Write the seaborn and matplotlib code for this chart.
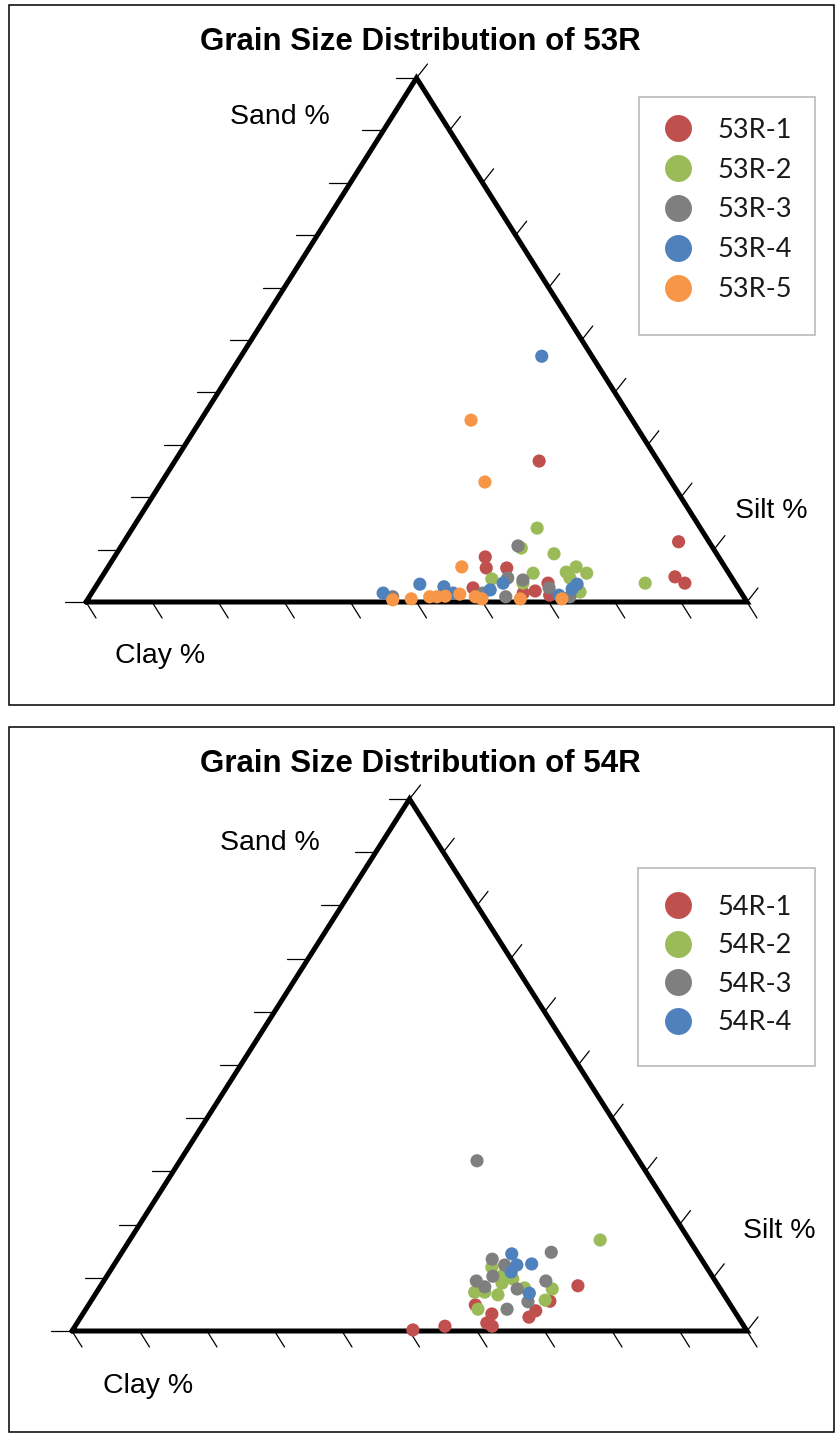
import numpy as np
import pandas as pd
import matplotlib
matplotlib.use("Agg")
import matplotlib.pyplot as plt
import seaborn as sns
from matplotlib.lines import Line2D
from matplotlib.patches import Rectangle

# ---------------------------------------------------------------------------
# Grain size data (percent). Clay is the remainder: 100 - sand - silt.
# ---------------------------------------------------------------------------
SAND_53R_1 = [26.9, 11.5, 4.8, 3.6, 8.6, 6.5, 6.5, 2.7, 3.6, 1.7, 2.1, 1.3]
SILT_53R_1 = [55.1, 83.9, 86.7, 88.8, 56.1, 57.3, 60.4, 57.2, 68.1, 65.3, 66.9, 69.5]

SAND_53R_2 = [14.1, 10.3, 9.2, 5.5, 4.4, 5.7, 6.7, 5.5, 4.6, 1.9, 3.6, 3.6]
SILT_53R_2 = [61.2, 60.7, 66.2, 64.9, 59.2, 69.8, 70.8, 73.0, 70.9, 73.8, 82.8, 64.3]

SAND_53R_3 = [10.7, 4.6, 4.2, 1.0, 2.7, 1.0, 1.0, 1.7]
SILT_53R_3 = [60.0, 61.5, 64.0, 63.0, 68.7, 72.7, 45.9, 59.2]

SAND_53R_4 = [46.9, 3.6, 2.3, 3.4, 2.5, 1.3, 1.7, 3.4, 2.9, 1.7]
SILT_53R_4 = [45.5, 61.3, 60.0, 72.6, 72.3, 70.9, 44.1, 48.8, 52.7, 54.7]

SAND_53R_5 = [34.7, 22.9, 6.7, 0.4, 0.6, 1.0, 1.0, 1.1, 1.5, 1.0, 0.6, 0.6, 0.6]
SILT_53R_5 = [40.9, 48.9, 53.5, 46.2, 48.9, 51.5, 52.6, 53.8, 55.8, 58.4, 59.6, 65.4, 71.7]

SAND_54R_1 = [8.5, 5.6, 4.9, 3.2, 3.8, 2.6, 1.5, 0.9, 0.9, 0.2]
SILT_54R_1 = [70.7, 68.0, 57.3, 60.6, 66.8, 66.4, 60.7, 61.8, 54.8, 50.4]

SAND_54R_2 = [17.1, 12.0, 10.5, 9.0, 7.3, 7.3, 6.8, 8.1, 7.9, 5.8, 4.1, 9.8]
SILT_54R_2 = [69.7, 56.2, 58.6, 59.2, 56.0, 57.5, 59.7, 63.0, 67.2, 67.2, 58.1, 60.4]

SAND_54R_3 = [32.0, 14.8, 13.5, 12.4, 10.3, 9.4, 8.3, 7.9, 9.4, 5.5, 4.1]
SILT_54R_3 = [44.0, 63.6, 55.5, 57.9, 57.2, 55.2, 57.0, 62.0, 65.5, 64.8, 62.4]

SAND_54R_4 = [14.5, 12.4, 12.6, 11.1, 7.1]
SILT_54R_4 = [57.9, 59.7, 61.8, 59.5, 64.2]

SAMPLES_53R = ["53R-1", "53R-2", "53R-3", "53R-4", "53R-5"]
SAMPLES_54R = ["54R-1", "54R-2", "54R-3", "54R-4"]

SERIES_COLORS = ["#C0504D", "#9BBB59", "#7F7F7F", "#4F81BD", "#F79646"]

TITLE_53R = "Grain Size Distribution of 53R"
TITLE_54R = "Grain Size Distribution of 54R"
AXIS_LABELS = ("Sand %", "Silt %", "Clay %")
TICK_STEPS = list(range(0, 101, 10))

# ---------------------------------------------------------------------------
W, H = 835, 1434
sns.set_style("white")
plt.rcParams["font.family"] = ["Liberation Sans", "DejaVu Sans"]
plt.rcParams["text.color"] = "black"

fig = plt.figure(figsize=(W / 100, H / 100), dpi=100)


def fx(px):
    return px / W


def fy(py):
    return 1 - py / H


def ternary_frame(samples, sands, silts):
    rows = []
    for name, sand, silt in zip(samples, sands, silts):
        for s, t in zip(sand, silt):
            rows.append({"sample": name, "sand": s, "silt": t,
                         "clay": 100 - s - t})
    df = pd.DataFrame(rows)
    # Cartesian position inside the triangle: clay at left, silt at right, sand at apex
    df["x"] = df["silt"] + df["sand"] / 2
    df["y"] = df["sand"]
    return df


def draw_panel(box, tri, title, title_y, samples, sands, silts,
               label_pos, legend_box, legend_rows):
    # panel border
    x0, y0, x1, y1 = box
    fig.add_artist(Rectangle((fx(x0), fy(y1)), fx(x1) - fx(x0), fy(y0) - fy(y1),
                             transform=fig.transFigure, fill=False,
                             edgecolor="black", linewidth=1.1))
    fig.text(fx(420), fy(title_y), title, ha="center", va="center",
             fontsize=22.5, fontweight="bold", color="black")

    left, top, right, bottom = tri
    ax = fig.add_axes([fx(left), fy(bottom), fx(right) - fx(left),
                       fy(top) - fy(bottom)])
    ax.set_xlim(0, 100)
    ax.set_ylim(0, 100)
    ax.set_axis_off()

    kx = (right - left) / 100.0   # pixels per x unit
    ky = (bottom - top) / 100.0   # pixels per y unit

    # triangle outline
    ax.plot([0, 50, 100, 0], [0, 100, 0, 0], color="black", lw=3.6,
            solid_joinstyle="miter", clip_on=False, zorder=3)

    tick_kw = dict(color="black", lw=0.9, clip_on=False, zorder=2)
    for v in TICK_STEPS:
        # sand axis (left edge): horizontal ticks pointing outward
        xs, ys = v / 2, v
        ax.plot([xs, xs - 21 / kx], [ys, ys], **tick_kw)
        # silt axis (right edge): ticks parallel to the left edge
        xr, yr = 100 - v / 2, v
        ax.plot([xr, xr + 11 / kx], [yr, yr + 14 / ky], **tick_kw)
        # clay axis (bottom edge): ticks parallel to the right edge
        ax.plot([v, v + 10 / kx], [0, -16 / ky], **tick_kw)

    df = ternary_frame(samples, sands, silts)
    palette = dict(zip(samples, SERIES_COLORS))
    sns.scatterplot(data=df, x="x", y="y", hue="sample", palette=palette,
                    s=90, linewidth=0, legend=False, ax=ax, zorder=4,
                    clip_on=False)

    for text, (px, py) in zip(AXIS_LABELS, label_pos):
        fig.text(fx(px), fy(py), text, ha="center", va="center",
                 fontsize=20.5, color="black")

    # legend
    lx0, ly0, lx1, ly1 = legend_box
    fig.add_artist(Rectangle((fx(lx0), fy(ly1)), fx(lx1) - fx(lx0),
                             fy(ly0) - fy(ly1), transform=fig.transFigure,
                             fill=False, edgecolor="#BFBFBF", linewidth=1.3))
    handles = [Line2D([], [], marker="o", linestyle="none", markersize=19.4,
                      markerfacecolor=palette[s], markeredgewidth=0)
               for s in samples]
    first_y, spacing = legend_rows
    fs = 19.5
    fs_px = fs * 100 / 72
    row_h = 24.9
    leg = ax.legend(handles, samples, loc="upper left",
                    bbox_to_anchor=(fx(659), fy(first_y - 10.2)),
                    bbox_transform=fig.transFigure, frameon=False,
                    borderpad=0, borderaxespad=0, handlelength=1.4,
                    handletextpad=0.75,
                    labelspacing=(spacing - row_h) / fs_px,
                    prop={"family": ["Lato", "DejaVu Sans"], "size": fs})
    for t in leg.get_texts():
        t.set_color("#1a1a1a")
    return ax


draw_panel(box=(9, 5, 834, 705), tri=(86, 78, 747, 602), title=TITLE_53R,
           title_y=42, samples=SAMPLES_53R,
           sands=[SAND_53R_1, SAND_53R_2, SAND_53R_3, SAND_53R_4, SAND_53R_5],
           silts=[SILT_53R_1, SILT_53R_2, SILT_53R_3, SILT_53R_4, SILT_53R_5],
           label_pos=[(280, 117), (771, 511), (160, 656)],
           legend_box=(639, 97, 815, 335), legend_rows=(128, 39.7))

draw_panel(box=(9, 727, 834, 1432), tri=(72, 799, 747, 1331), title=TITLE_54R,
           title_y=764, samples=SAMPLES_54R,
           sands=[SAND_54R_1, SAND_54R_2, SAND_54R_3, SAND_54R_4],
           silts=[SILT_54R_1, SILT_54R_2, SILT_54R_3, SILT_54R_4],
           label_pos=[(270, 843), (779, 1231), (148, 1386)],
           legend_box=(638, 868, 815, 1066), legend_rows=(905, 38.3))

fig.savefig("out.png", dpi=100)
